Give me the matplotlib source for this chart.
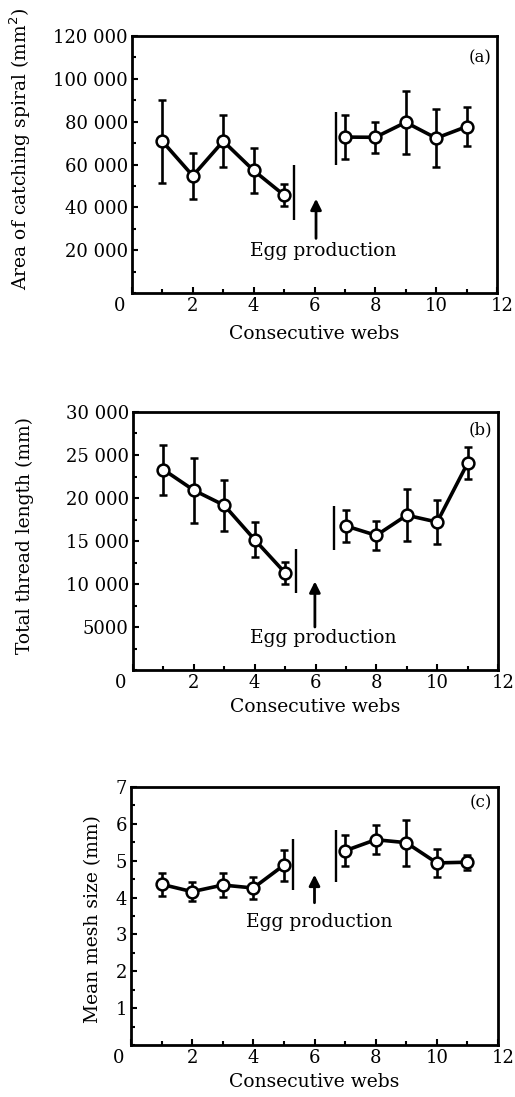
import matplotlib
matplotlib.use('Agg')
import matplotlib.pyplot as plt
from matplotlib.transforms import ScaledTranslation
from matplotlib.ticker import MultipleLocator

plt.rcParams['font.family'] = ['DejaVu Serif']

# ---------------- data ----------------
webs_before = [1, 2, 3, 4, 5]
webs_after = [7, 8, 9, 10, 11]

area_before = [70800, 54700, 70900, 57200, 45700]
area_before_err = [19400, 10900, 12300, 10300, 5000]
area_after = [72800, 72700, 79700, 72300, 77700]
area_after_err = [10300, 7300, 14800, 13600, 9000]

thread_before = [23300, 20900, 19150, 15150, 11300]
thread_before_err = [2900, 3800, 2950, 2050, 1300]
thread_after = [16750, 15650, 18000, 17200, 24050]
thread_after_err = [1850, 1650, 3000, 2600, 1850]

mesh_before = [4.36, 4.16, 4.34, 4.26, 4.88]
mesh_before_err = [0.31, 0.25, 0.33, 0.30, 0.42]
mesh_after = [5.27, 5.57, 5.49, 4.94, 4.96]
mesh_after_err = [0.42, 0.39, 0.62, 0.39, 0.20]

# separator bars (x, low, high) around the egg-production gap
area_breaks_x = [5.33, 6.7]
area_breaks_lo = [34000, 60000]
area_breaks_hi = [60000, 84700]
thread_breaks_x = [5.36, 6.6]
thread_breaks_lo = [8900, 14000]
thread_breaks_hi = [14100, 19100]
mesh_breaks_x = [5.3, 6.7]
mesh_breaks_lo = [4.21, 4.41]
mesh_breaks_hi = [5.59, 5.84]

x_ticks = [0, 2, 4, 6, 8, 10, 12]
x_ticklabels = ['0', '2', '4', '6', '8', '10', '12']

area_yticks = [20000, 40000, 60000, 80000, 100000, 120000]
area_yticklabels = ['20 000', '40 000', '60 000', '80 000', '100 000', '120 000']
thread_yticks = [5000, 10000, 15000, 20000, 25000, 30000]
thread_yticklabels = ['5000', '10 000', '15 000', '20 000', '25 000', '30 000']
mesh_yticks = [1, 2, 3, 4, 5, 6, 7]
mesh_yticklabels = ['1', '2', '3', '4', '5', '6', '7']

panel_labels = ['(a)', '(b)', '(c)']
y_titles = ['Area of catching spiral (mm$^2$)', 'Total thread length (mm)',
            'Mean mesh size (mm)']
x_title = 'Consecutive webs'
egg_text = 'Egg production'

# ---------------- figure ----------------
fig = plt.figure(figsize=(5.15, 10.97), dpi=100)
W, H = 515, 1097

def make_ax(left, right, top, bottom):
    return fig.add_axes([left / W, 1 - bottom / H, (right - left) / W, (bottom - top) / H])

ax_a = make_ax(132, 497, 36, 293)
ax_b = make_ax(133, 498, 412, 670)
ax_c = make_ax(131, 498, 787, 1045)

FS = 13.5
TFS = 13

panels = [
    (ax_a, area_before, area_before_err, area_after, area_after_err,
     area_breaks_x, area_breaks_lo, area_breaks_hi, 120000, area_yticks,
     area_yticklabels, 10000, (6.05, 44000), (6.05, 25500), (6.3, 19800), 0.915, -0.272, 0.56, 7),
    (ax_b, thread_before, thread_before_err, thread_after, thread_after_err,
     thread_breaks_x, thread_breaks_lo, thread_breaks_hi, 30000, thread_yticks,
     thread_yticklabels, 2500, (5.98, 10300), (5.98, 5000), (6.25, 3750), 0.93, -0.272, 0.52, 4),
    (ax_c, mesh_before, mesh_before_err, mesh_after, mesh_after_err,
     mesh_breaks_x, mesh_breaks_lo, mesh_breaks_hi, 7, mesh_yticks,
     mesh_yticklabels, 0.5, (6.0, 4.62), (6.0, 3.86), (6.15, 3.35), 0.94, -0.079, 0.49, 4.5),
]

for i, (ax, yb, eb, ya, ea, bx, blo, bhi, ymax, yt, ytl, ymin_step,
        tip, tail, txt, lab_y, ylab_x, ylab_y, xpad) in enumerate(panels):
    for xs, ys, es in [(webs_before, yb, eb), (webs_after, ya, ea)]:
        ax.errorbar(xs, ys, yerr=es, color='black', lw=2.6, elinewidth=1.9,
                    capsize=3, capthick=1.9, marker='o', markersize=8.5,
                    markerfacecolor='white', markeredgecolor='black',
                    markeredgewidth=1.8, zorder=3)
    ax.vlines(bx, blo, bhi, color='black', lw=1.7)
    ax.annotate('', xy=tip, xytext=tail,
                arrowprops=dict(arrowstyle='-|>', color='black', lw=2,
                                mutation_scale=16, shrinkA=0, shrinkB=0))
    ax.text(txt[0], txt[1], egg_text, ha='center', va='center', fontsize=FS)
    ax.text(0.985, lab_y, panel_labels[i], transform=ax.transAxes,
            ha='right', va='center', fontsize=FS - 1.5)

    ax.set_xlim(0, 12)
    ax.set_ylim(0, ymax)
    ax.set_xticks(x_ticks)
    ax.set_xticklabels(x_ticklabels, fontsize=TFS)
    ax.xaxis.set_minor_locator(MultipleLocator(1))
    ax.set_yticks(yt)
    ax.set_yticklabels(ytl, fontsize=TFS)
    ax.yaxis.set_minor_locator(MultipleLocator(ymin_step))
    ax.tick_params(which='both', direction='in', top=False, right=False, width=1.5)
    ax.tick_params(which='major', length=4, pad=3)
    ax.tick_params(which='minor', length=3)
    for sp in ax.spines.values():
        sp.set_linewidth(2)

    ax.set_xlabel(x_title, fontsize=FS, labelpad=xpad)
    ax.set_ylabel(y_titles[i], fontsize=FS)
    ax.yaxis.set_label_coords(ylab_x, ylab_y)

    ticks = ax.xaxis.get_major_ticks()
    ticks[0].label1.set_transform(ticks[0].label1.get_transform() +
                                  ScaledTranslation(-9 / 72, 0, fig.dpi_scale_trans))
    ticks[-1].label1.set_transform(ticks[-1].label1.get_transform() +
                                   ScaledTranslation(4 / 72, 0, fig.dpi_scale_trans))

fig.savefig('out.png', dpi=100, facecolor='white')
